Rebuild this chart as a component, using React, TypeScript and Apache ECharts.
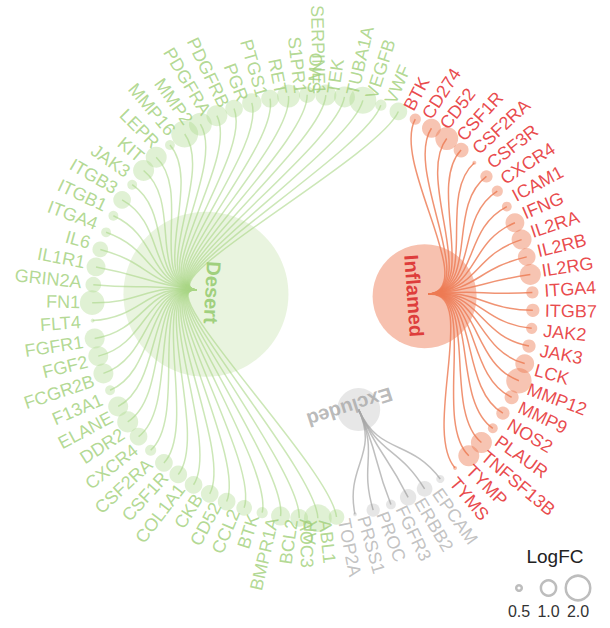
import React, { useEffect, useRef } from "react";
import * as echarts from "echarts";

// ---------------- data ----------------
const clusterNames = ["Inflamed", "Excluded", "Desert"];

const inflamedGenes = ["BTK", "CD274", "CD52", "CSF1R", "CSF2RA", "CSF3R", "CXCR4", "ICAM1", "IFNG", "IL2RA", "IL2RB", "IL2RG", "ITGA4", "ITGB7", "JAK2", "JAK3", "LCK", "MMP12", "MMP9", "NOS2", "PLAUR", "TNFSF13B", "TYMP", "TYMS"];
const inflamedLogFC = [0.6, 1.1, 1.5, 0.8, 0.45, 0.65, 0.6, 0.55, 1.1, 1.2, 1.0, 1.3, 0.65, 0.7, 0.6, 0.7, 1.1, 1.8, 0.75, 0.7, 0.55, 1.3, 1.3, 0.4];

const excludedGenes = ["EPCAM", "ERBB2", "FGFR3", "PROC", "PRSS1", "TOP2A"];
const excludedLogFC = [0.5, 0.85, 0.9, 0.55, 0.7, 0.45];

const desertGenes = ["ABL1", "AOC3", "AR", "BCL2", "BMPR1A", "BTK", "CCL2", "CD52", "CKB", "COL1A1", "CSF1R", "CSF2RA", "CXCR4", "DDR2", "ELANE", "F13A1", "FCGR2B", "FGF2", "FGFR1", "FLT4", "FN1", "GRIN2A", "IL1R1", "IL6", "ITGA4", "ITGB1", "ITGB3", "JAK3", "KIT", "LEPR", "MMP16", "MMP2", "PDGFRA", "PDGFRB", "PGR", "PTGS1", "RET", "S1PR1", "SERPINE1", "SMO", "TEK", "TUBA1A", "VEGFB", "VWF"];
const desertLogFC = [0.85, 2.1, 1.0, 1.1, 0.6, 0.85, 1.0, 1.0, 1.0, 1.0, 1.0, 0.6, 1.0, 1.3, 1.2, 0.55, 1.2, 1.2, 1.2, 0.45, 1.7, 0.85, 1.1, 0.85, 0.55, 0.55, 1.0, 0.55, 1.3, 1.3, 0.55, 2.0, 1.5, 1.3, 1.0, 1.15, 1.0, 1.5, 0.9, 1.3, 1.3, 2.0, 0.6, 1.0];

const legendValues = [0.5, 1.0, 2.0];
const legendTitle = "LogFC";

// ---------------- styles ----------------
const FONT = "'Liberation Sans', Arial, Helvetica, sans-serif";
const styles: Record<string, any> = {
  Inflamed: { text: "#e3191c", title: "#d7191c", fill: "rgba(236,120,80,0.55)", edge: "rgba(236,120,80,0.8)", node: "rgba(238,125,88,0.6)", nodeSize: 104, nodeOffset: [-4, 2], labelRotate: -86, labelOffset: [0, -3] },
  Excluded: { text: "#b3b3b3", title: "#a8a8a8", fill: "rgba(150,150,150,0.3)", edge: "rgba(170,170,170,0.75)", node: "rgba(160,160,160,0.32)", nodeSize: 43, nodeOffset: [0, 0], labelRotate: -162, labelOffset: [6, -12] },
  Desert: { text: "#a0cf78", title: "#8dc764", fill: "rgba(170,215,135,0.45)", edge: "rgba(170,215,135,0.6)", node: "rgba(170,215,135,0.33)", nodeSize: 165, nodeOffset: [9, 4], labelRotate: -93, labelOffset: [0, 2] },
};
const START_ANGLE = 62.2; // degrees, first leaf (BTK, Inflamed)
const CLUSTER_R = 0.53;
const CLUSTER_LABEL_R = 0.45;
const LABEL_GAP = 12;

const sizeOf = (v: number) => 4 + 23 * Math.sqrt(Math.max(v - 0.45, 0) / 1.55);
const rad = (d: number) => (d * Math.PI) / 180;

// ---------------- build ----------------
const groups = [
  { name: clusterNames[0], genes: inflamedGenes, fc: inflamedLogFC },
  { name: clusterNames[1], genes: excludedGenes, fc: excludedLogFC },
  { name: clusterNames[2], genes: desertGenes, fc: desertLogFC },
];
const N = groups.reduce((s, g) => s + g.genes.length, 0);
const STEP = 360 / N;

const leafData: any[] = [];
const edgeData: any[] = [];
const clusterData: any[] = [];
const clusterLabelData: any[] = [];

let idx = 0;
groups.forEach((g, gi) => {
  const st = styles[g.name];
  const first = idx;
  const last = idx + g.genes.length - 1;
  const cAngle = START_ANGLE - ((first + last) / 2) * STEP;
  const cx = CLUSTER_R * Math.cos(rad(cAngle));
  const cy = CLUSTER_R * Math.sin(rad(cAngle));
  g.genes.forEach((gene, k) => {
    let a = START_ANGLE - idx * STEP;
    while (a <= -180) a += 360;
    while (a > 180) a -= 360;
    const x = Math.cos(rad(a));
    const y = Math.sin(rad(a));
    const right = Math.cos(rad(a)) >= 0;
    const size = sizeOf(g.fc[k]);
    leafData.push({
      name: gene,
      value: [x, y, g.fc[k]],
      symbolSize: size,
      itemStyle: { color: st.fill },
      label: {
        show: true,
        position: "inside",
        formatter: gene,
        color: st.text,
        align: right ? "left" : "right",
        verticalAlign: "middle",
        rotate: right ? a : a - 180,
        offset: [LABEL_GAP * Math.cos(rad(a)), -LABEL_GAP * Math.sin(rad(a))],
      },
    });
    edgeData.push([cx, cy, x, y, cAngle, a, gi]);
    idx++;
  });
  clusterData.push({
    name: g.name,
    value: [cx, cy],
    symbolSize: st.nodeSize,
    symbolOffset: st.nodeOffset,
    itemStyle: { color: st.node },
  });
  clusterLabelData.push({
    name: g.name,
    value: [CLUSTER_LABEL_R * Math.cos(rad(cAngle)), CLUSTER_LABEL_R * Math.sin(rad(cAngle))],
    label: {
      show: true,
      position: "inside",
      formatter: g.name,
      color: st.title,
      rotate: st.labelRotate,
      offset: st.labelOffset,
      align: "center",
      verticalAlign: "middle",
    },
  });
});

const option: any = {
  animation: false,
  backgroundColor: "#ffffff",
  textStyle: { fontFamily: FONT },
  grid: { left: 15, top: 10, width: 600, height: 593 },
  xAxis: { type: "value", min: -1.35, max: 1.35, show: false },
  yAxis: { type: "value", min: -1.4, max: 1.4, show: false },
  series: [
    {
      type: "custom",
      name: "edges",
      silent: true,
      z: 1,
      encode: { x: [0, 2], y: [1, 3] },
      data: edgeData,
      renderItem: (params: any, api: any) => {
        const pa = rad(api.value(4));
        const ca = rad(api.value(5));
        const gi = api.value(6);
        const rm = (CLUSTER_R + 1) / 2;
        const p0 = api.coord([CLUSTER_R * Math.cos(pa), CLUSTER_R * Math.sin(pa)]);
        const p1 = api.coord([rm * Math.cos(pa), rm * Math.sin(pa)]);
        const p2 = api.coord([rm * Math.cos(ca), rm * Math.sin(ca)]);
        const p3 = api.coord([Math.cos(ca), Math.sin(ca)]);
        return {
          type: "bezierCurve",
          shape: { x1: p0[0], y1: p0[1], cpx1: p1[0], cpy1: p1[1], cpx2: p2[0], cpy2: p2[1], x2: p3[0], y2: p3[1] },
          style: { stroke: styles[clusterNames[gi]].edge, lineWidth: 1.5, fill: "none" },
        };
      },
    },
    {
      type: "scatter",
      name: "clusters",
      silent: true,
      clip: false,
      z: 2,
      symbol: "circle",
      data: clusterData,
      label: { show: false },
    },
    {
      type: "scatter",
      name: "leaves",
      silent: true,
      clip: false,
      z: 3,
      symbol: "circle",
      data: leafData,
      label: { fontSize: 18, fontFamily: FONT },
    },
    {
      type: "scatter",
      name: "clusterLabels",
      silent: true,
      clip: false,
      z: 4,
      symbol: "circle",
      symbolSize: 1,
      itemStyle: { color: "rgba(0,0,0,0)" },
      data: clusterLabelData,
      label: { fontSize: 20, fontWeight: "bold", fontFamily: FONT },
    },
  ],
  graphic: [
    {
      type: "text",
      x: 555,
      y: 556,
      style: { text: legendTitle, font: `19px ${FONT}`, fill: "#222", textAlign: "center", textVerticalAlign: "middle" },
    },
    ...legendValues.map((v, i) => ({
      type: "circle",
      x: 519 + i * 29.5,
      y: 588,
      shape: { cx: 0, cy: 0, r: Math.max(sizeOf(v) / 2 - 1.25, 1) },
      style: { fill: "none", stroke: "#bdbdbd", lineWidth: 2.5 },
    })),
    ...legendValues.map((v, i) => ({
      type: "text",
      x: 519 + i * 29.5,
      y: 611,
      style: { text: v.toFixed(1), font: `16px ${FONT}`, fill: "#333", textAlign: "center", textVerticalAlign: "middle" },
    })),
  ],
};

export default function App() {
  const ref = useRef<HTMLDivElement>(null);
  useEffect(() => {
    const chart = echarts.init(ref.current!, null, { renderer: "svg" });
    chart.setOption(option);
    return () => chart.dispose();
  }, []);
  return (
    <div
      ref={ref}
      style={{ position: "fixed", left: 0, top: 0, width: 610, height: 628, background: "#fff" }}
    />
  );
}
